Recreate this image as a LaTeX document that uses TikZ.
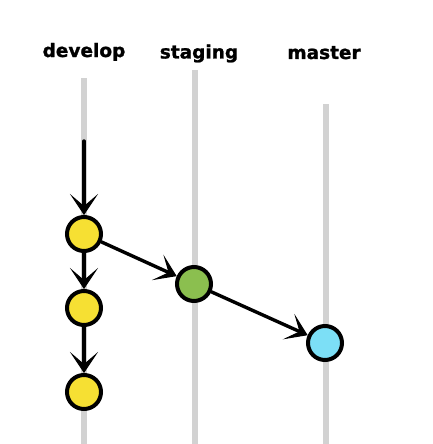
\documentclass[tikz,border=0pt]{standalone}
\usepackage{fontspec}
\setmainfont{DejaVu Sans}
\newfontfamily\labelfont[FakeBold=1.2]{DejaVu Sans Bold}
\usetikzlibrary{arrows.meta}
\definecolor{lanegray}{HTML}{D2D2D2}
\definecolor{cyellow}{HTML}{F6E033}
\definecolor{cgreen}{HTML}{8BBF4F}
\definecolor{cblue}{HTML}{7CDFF6}
\begin{document}
\begin{tikzpicture}[x=1pt,y=-1pt,
  lane/.style={draw=lanegray,line width=5.5pt},
  commit/.style={circle,draw=black,line width=4pt,minimum size=34pt,inner sep=0pt},
  flow/.style={draw=black,line width=3.4pt,line cap=round,-{Stealth[length=21pt,width=28pt,inset=12pt,line width=1pt]}},
  branchlabel/.style={anchor=base,font=\labelfont\fontsize{18.5pt}{21pt}\selectfont,inner sep=0pt}]
\useasboundingbox (0,0) rectangle (432,444);
% labels
\node[branchlabel] (ldev) at (84,57) {develop};
\node[branchlabel] (lsta) at (199,58.5) {staging};
\node[branchlabel] (lmas) at (324,59) {master};
% lanes
\coordinate (devtop) at (84,78);
\coordinate (devbot) at (84,444);
\coordinate (statop) at (195,70);
\coordinate (stabot) at (195,444);
\coordinate (mastop) at (326,104);
\coordinate (masbot) at (326,444);
\draw[lane] (devtop) -- (devbot);
\draw[lane] (statop) -- (stabot);
\draw[lane] (mastop) -- (masbot);
% commits
\node[commit,fill=cyellow] (d1) at (84,234) {};
\node[commit,fill=cyellow] (d2) at (84,308) {};
\node[commit,fill=cyellow] (d3) at (84,392) {};
\node[commit,fill=cgreen] (s1) at (194,284) {};
\node[commit,fill=cblue] (m1) at (325,343) {};
% connectors
\coordinate (start) at (84,141);
\draw[flow] (start) -- (d1);
\draw[flow] (d1) -- (d2);
\draw[flow] (d2) -- (d3);
\draw[flow] (d1) -- (s1);
\draw[flow] (s1) -- (m1);
\end{tikzpicture}
\end{document}
